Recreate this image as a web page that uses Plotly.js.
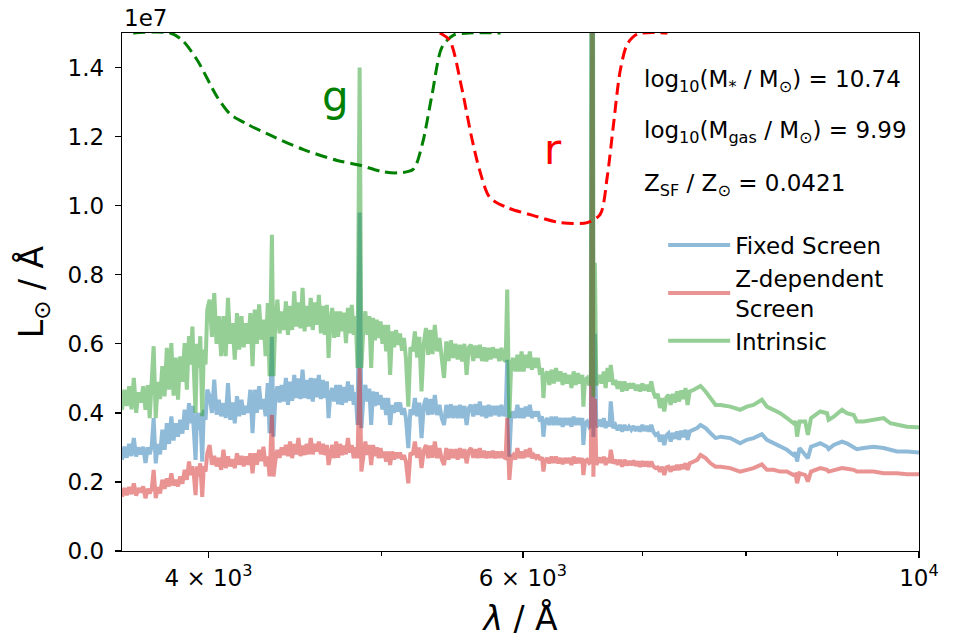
<!DOCTYPE html>
<html>
<head>
<meta charset="utf-8">
<script src="https://cdn.plot.ly/plotly-3.0.1.min.js"></script>
<style>
  html, body { margin: 0; padding: 0; background: #fff; }
  #chart { width: 958px; height: 638px; }
</style>
</head>
<body>
<div id="chart"></div>
<script>
// Wavelength grid (Å) shared by the three spectra
const wavelength = [
  3578,3589,3600,3611,3622,3633,3644,3655,3666,3677,3688,3699,
  3708,3718,3727,3737,3747,3758,3769,3780,3791,3802,3813,3824,3835,3846,3857,3868,3879,3890,
  3901,3910,3918,3926,3934,3942,3950,3958,3968,3976,3985,3994,
  4006,4018,4030,4042,4054,4066,4078,4090,4102,4114,4126,4138,4150,4162,4174,
  4186,4198,4210,4222,4234,4246,4258,4270,4282,4294,4306,4318,4328,
  4341,4350,4360,4372,4384,4396,4408,4420,4432,4444,4456,4468,
  4480,4492,4504,4516,4528,4540,4552,4564,4576,4588,4600,4612,
  4624,4636,4648,4660,4670,4680,4692,4704,4716,4728,
  4740,4752,4764,4776,4788,4800,4812,4824,4836,4848,
  4861,4872,4884,4897,4910,4922,4934,4946,4958,4970,4982,4994,5006,
  5018,5030,5043,5056,5069,5082,5095,5108,5121,5134,5147,5160,5176,
  5190,5205,5220,5235,5250,5265,5280,5295,5310,5325,5340,5356,5372,5388,
  5404,5420,5436,5452,5468,5484,5500,5516,5532,5548,5564,5580,5596,
  5612,5628,5644,5660,5676,5692,5708,5724,5740,5756,5772,5788,5804,5820,5836,5852,5868,
  5880,5896,5910,5926,5942,5958,5974,5990,6006,6022,6038,6054,6070,6086,6102,6118,6134,6150,6161,
  6172,6190,6208,6226,6244,6262,6280,6298,6316,6334,6352,6370,
  6388,6406,6424,6442,6460,6478,6487,6500,6518,6536,6550,
  6563,6571,6584,6596,6612,6628,6644,6660,6676,6692,6708,6720,
  6740,6760,6780,6800,6820,6840,6860,6880,6900,6920,6940,6960,6980,7000,7020,7040,7060,7080,
  7100,7120,7140,7160,7180,7200,7220,7240,7260,7280,7300,7320,7340,7360,7380,7400,7420,7440,
  7480,7512,7545,7594,7643,7693,7743,7839,7940,8009,8078,8166,8219,8289,8361,8434,8506,8530,8545,8572,
  8636,8665,8700,8805,8882,8900,8959,9055,9111,9192,9230,9310,9431,9554,9637,9720,9846,9974,10000
];

// Spectra in units of 10^6 L⊙/Å
const fixedScreen = [
  2.64,3.02,2.70,3.10,2.75,3.27,2.74,3.00,2.80,3.02,2.55,3.00,
  2.80,3.05,3.85,2.54,3.10,2.80,3.51,2.93,3.70,3.10,3.90,3.20,3.70,3.31,3.80,3.40,4.09,3.51,
  4.28,3.70,4.20,3.60,2.64,4.00,3.51,4.00,2.59,4.09,3.80,4.67,
  4.48,4.00,4.96,3.95,4.38,3.90,4.28,3.85,4.86,3.80,4.30,3.70,4.48,3.90,4.38,
  3.95,4.20,4.00,4.67,3.41,4.67,4.00,4.77,4.10,4.40,3.90,4.86,3.41,
  6.20,3.31,4.40,4.77,4.30,4.81,4.33,5.01,4.23,4.90,4.35,5.10,
  4.43,5.00,4.40,5.25,4.43,4.95,4.40,5.01,4.33,5.00,4.45,5.10,
  4.40,4.95,4.43,4.91,3.85,4.50,4.72,4.33,4.81,4.25,
  4.81,4.23,4.75,4.30,4.91,4.35,4.81,4.23,4.60,3.65,
  9.80,3.56,4.40,4.81,4.33,4.70,3.65,4.62,4.20,4.60,4.23,4.52,4.10,
  4.43,3.94,4.43,3.65,4.23,4.00,4.30,4.04,4.30,3.95,4.14,3.85,2.98,
  4.10,3.94,4.43,3.90,4.30,3.27,4.20,4.43,3.94,4.40,3.95,4.52,3.94,4.23,
  3.85,3.65,4.23,3.85,4.25,3.85,4.20,3.85,4.23,3.85,4.20,3.65,4.15,
  4.23,3.90,4.25,3.94,4.33,3.90,4.20,3.85,4.23,3.90,4.20,3.94,4.20,3.90,4.23,3.95,3.94,
  5.54,2.73,3.90,4.04,3.85,4.23,3.85,4.14,3.85,4.18,3.90,4.23,3.85,4.04,3.90,4.04,3.75,3.90,3.31,
  3.70,3.85,3.65,3.89,3.65,3.89,3.65,3.85,3.60,3.85,3.65,3.85,
  3.60,3.89,3.65,3.85,3.65,3.85,3.07,3.70,3.75,3.60,3.65,
  28.0,3.30,6.29,3.60,3.65,3.80,3.60,3.85,3.56,3.75,3.60,4.33,
  3.56,3.65,3.50,3.65,3.46,3.65,3.50,3.60,3.51,3.62,3.48,3.60,3.46,3.65,3.48,3.62,3.46,3.65,
  3.45,3.36,3.40,3.17,3.36,3.07,3.35,3.41,3.17,3.42,3.25,3.46,3.22,3.48,3.30,3.51,3.22,3.46,
  3.51,3.56,3.65,3.56,3.41,3.27,3.31,3.27,3.12,3.22,3.27,3.38,3.22,3.12,3.02,2.93,2.78,2.85,2.59,2.98,
  2.78,2.69,3.02,3.12,3.02,2.95,3.07,3.17,3.12,3.02,2.95,2.98,3.02,2.98,2.93,2.88,2.88,2.85,2.85
];

const zDependentScreen = [
  1.57,1.82,1.62,1.85,1.65,1.96,1.60,1.82,1.70,1.87,1.53,1.80,
  1.67,1.80,2.35,1.53,1.85,1.67,2.06,1.80,2.10,1.87,2.25,1.90,2.06,1.87,2.16,1.95,2.35,2.06,
  2.59,2.20,2.45,2.16,1.62,2.45,2.16,2.54,1.57,2.45,2.30,2.83,
  3.07,2.50,2.75,2.45,2.70,2.35,2.93,2.40,2.74,2.45,2.65,2.40,2.83,2.50,2.75,
  2.45,2.74,2.50,2.83,2.25,2.83,2.50,2.93,2.60,3.02,2.45,2.74,2.16,
  3.94,2.16,2.60,2.93,2.70,3.00,2.78,3.07,2.75,3.17,2.69,3.10,
  2.80,3.27,2.75,3.05,2.78,3.10,2.80,3.27,2.80,3.10,2.88,3.17,
  2.80,3.10,2.78,3.07,2.49,2.85,3.07,2.69,3.17,2.70,
  3.10,2.78,3.05,2.80,3.27,2.85,3.07,2.69,3.00,2.69,
  5.30,2.30,2.85,3.17,2.78,3.07,2.49,3.07,2.75,3.00,2.69,2.98,2.70,
  2.88,2.59,2.88,2.49,2.88,2.65,2.85,2.69,2.85,2.65,2.78,2.59,1.96,
  2.85,2.78,3.17,2.70,3.00,2.40,2.90,3.07,2.69,3.05,2.70,3.17,2.69,2.98,
  2.65,2.49,2.98,2.65,2.95,2.69,2.95,2.65,2.98,2.69,2.95,2.54,2.90,
  2.98,2.70,2.95,2.69,2.98,2.70,2.90,2.69,2.88,2.70,2.90,2.69,2.88,2.70,2.88,2.72,2.69,
  3.86,2.06,2.70,2.78,2.65,2.98,2.69,2.88,2.69,2.93,2.72,2.98,2.69,2.78,2.70,2.78,2.64,2.72,2.30,
  2.60,2.69,2.54,2.73,2.55,2.73,2.54,2.69,2.52,2.69,2.55,2.69,
  2.49,2.73,2.54,2.69,2.55,2.69,2.20,2.60,2.64,2.55,2.59,
  18.0,2.15,4.40,2.50,2.59,2.70,2.55,2.73,2.49,2.69,2.55,2.93,
  2.54,2.64,2.50,2.64,2.44,2.64,2.48,2.60,2.49,2.62,2.47,2.59,2.44,2.60,2.46,2.59,2.44,2.59,
  2.45,2.40,2.42,2.30,2.44,2.20,2.42,2.44,2.30,2.45,2.35,2.49,2.35,2.50,2.38,2.54,2.35,2.54,
  2.59,2.64,2.78,2.69,2.54,2.44,2.44,2.40,2.30,2.35,2.40,2.51,2.35,2.35,2.30,2.30,2.20,2.22,1.96,2.25,
  2.20,2.01,2.30,2.40,2.35,2.30,2.35,2.40,2.38,2.35,2.30,2.30,2.30,2.25,2.25,2.25,2.22,2.22,2.22
];

const intrinsic = [
  4.09,4.67,4.20,4.77,4.10,5.01,4.00,4.60,4.30,4.77,4.09,4.80,
  3.85,4.86,5.93,3.85,4.90,4.40,5.35,4.48,5.88,4.67,6.02,4.50,5.60,4.38,5.64,4.90,6.02,4.67,
  6.22,5.40,6.50,5.15,4.00,6.00,5.30,6.22,3.90,5.83,5.40,6.99,
  7.28,6.20,7.47,6.00,6.80,5.64,6.80,5.64,7.33,6.00,6.60,5.54,6.89,5.83,6.80,
  5.90,6.60,6.00,6.89,5.35,6.99,6.00,7.14,6.12,6.70,5.64,7.18,5.06,
  9.16,5.06,6.60,7.28,6.30,6.94,6.40,7.23,6.26,7.10,6.40,7.52,
  6.50,7.20,6.45,7.62,6.36,7.10,6.50,7.33,6.40,7.20,6.55,7.42,
  6.30,7.10,6.26,7.13,5.59,6.60,7.04,6.17,6.94,6.20,
  6.94,6.36,6.90,6.02,7.04,6.30,7.13,6.26,6.80,5.30,
  14.0,5.30,6.40,6.94,6.26,6.80,5.30,6.75,6.10,6.70,6.17,6.65,6.00,
  6.55,5.78,6.55,5.10,6.36,5.90,6.40,5.97,6.30,5.80,6.17,5.59,4.18,
  5.90,5.78,6.36,5.60,6.20,4.62,6.00,6.46,5.68,6.40,5.70,6.55,5.78,6.17,
  5.60,5.01,6.07,5.50,6.10,5.59,6.00,5.55,5.97,5.49,6.00,5.10,5.90,
  5.97,5.50,5.95,5.59,5.97,5.50,5.90,5.49,5.88,5.55,5.90,5.59,5.85,5.50,5.88,5.55,5.49,
  7.57,3.85,5.40,5.59,5.20,5.68,5.20,5.78,5.20,5.68,5.30,5.78,5.25,5.59,5.30,5.59,5.10,5.30,4.43,
  5.00,5.20,4.81,5.25,4.85,5.30,4.91,5.20,4.81,5.15,4.85,5.10,
  4.72,5.20,4.81,5.15,4.85,5.10,4.18,4.95,5.01,4.80,4.91,
  40.0,4.47,8.35,4.80,4.91,5.10,4.85,5.20,4.72,5.30,4.90,5.39,
  4.81,4.95,4.70,4.91,4.62,4.91,4.65,4.85,4.72,4.85,4.65,4.81,4.62,4.85,4.65,4.81,4.62,4.91,
  4.60,4.43,4.55,4.14,4.43,4.04,4.45,4.52,4.23,4.55,4.30,4.62,4.33,4.65,4.40,4.72,4.23,4.62,
  4.67,4.72,4.78,4.62,4.43,4.23,4.23,4.18,4.09,4.18,4.23,4.38,4.18,4.09,3.99,3.85,3.70,3.75,3.31,3.75,
  3.75,3.36,3.85,4.04,3.99,3.80,3.89,4.09,3.99,3.94,3.75,3.75,3.80,3.85,3.70,3.65,3.60,3.58,3.58
];

// Filter response curves, drawn hanging from the top of the panel (same units)
const gWave  = [3630,3807,3867,3943,4046,4114,4205,4332,4519,4722,4864,5000,5102,5208,5270,5337,5406,5487,5600,5830];
const gLevel = [15.0,15.0,14.79,14.21,13.14,12.65,12.36,12.04,11.63,11.31,11.17,10.99,10.95,11.05,11.78,13.22,14.59,14.94,15.0,15.0];
const rWave  = [5390,5459,5544,5616,5675,5749,5876,6077,6295,6520,6629,6689,6741,6803,6865,6955,7230];
const rLevel = [15.0,14.79,13.43,11.98,11.02,10.24,9.95,9.72,9.51,9.51,9.75,10.82,12.27,13.92,14.68,14.97,15.0];

const unit = 1e6;

// Axis ticks
const xTickVals  = [4000, 6000, 10000];
const xTickText  = ['4 × 10<sup>3</sup>', '6 × 10<sup>3</sup>', '10<sup>4</sup>'];
const xMinorVals = [5000, 7000, 8000, 9000];
const yTickVals  = [0, 2e6, 4e6, 6e6, 8e6, 10e6, 12e6, 14e6];
const yTickText  = ['0.0', '0.2', '0.4', '0.6', '0.8', '1.0', '1.2', '1.4'];

// Galaxy properties
const statLines = [
  'log<sub>10</sub>(M<sub>*</sub> / M<sub>⊙</sub>) = 10.74',
  'log<sub>10</sub>(M<sub>gas</sub> / M<sub>⊙</sub>) = 9.99',
  'Z<sub>SF</sub> / Z<sub>⊙</sub> = 0.0421'
];

const toLum = arr => arr.map(v => v * unit);

function spectrum(name, values, color) {
  return {
    type: 'scatter', mode: 'lines', name: name,
    x: wavelength, y: toLum(values),
    line: { color: color, width: 4 },
    opacity: 0.5,
    hoverinfo: 'skip'
  };
}

function filterCurve(wave, level, color) {
  return {
    type: 'scatter', mode: 'lines', showlegend: false,
    x: wave, y: toLum(level),
    line: { color: color, width: 3, dash: '12px,6px', shape: 'spline', smoothing: 0.8 },
    hoverinfo: 'skip'
  };
}

const traces = [
  spectrum('Fixed Screen', fixedScreen, '#1f77b4'),
  spectrum('Z-dependent<br>Screen', zDependentScreen, '#d62728'),
  spectrum('Intrinsic', intrinsic, '#2ca02c'),
  filterCurve(gWave, gLevel, '#008000'),
  filterCurve(rWave, rLevel, '#ff0000')
];

const FONT = 'DejaVu Sans, Verdana, sans-serif';

const axisCommon = {
  showline: true, linecolor: '#000', linewidth: 1.3, mirror: true,
  ticks: 'outside', ticklen: 6, tickwidth: 1.3, tickcolor: '#000',
  showgrid: false, zeroline: false,
  tickfont: { family: FONT, size: 23, color: '#000' }
};

const statY = [0.908, 0.808, 0.707];

const annotations = [
  { xref: 'paper', yref: 'paper', x: 0, y: 1, xanchor: 'left', yanchor: 'bottom',
    text: '1e7', showarrow: false, font: { family: FONT, size: 23, color: '#000' } },
  { xref: 'x', yref: 'y', x: Math.log10(4710), y: 1.317e7, xanchor: 'center', yanchor: 'middle',
    text: 'g', showarrow: false, font: { family: FONT, size: 42, color: '#008000' } },
  { xref: 'x', yref: 'y', x: Math.log10(6240), y: 1.163e7, xanchor: 'center', yanchor: 'middle',
    text: 'r', showarrow: false, font: { family: FONT, size: 42, color: '#ff0000' } }
].concat(statLines.map((t, i) => ({
  xref: 'paper', yref: 'paper', x: 0.6527, y: statY[i], xanchor: 'left', yanchor: 'middle',
  text: t, showarrow: false, font: { family: FONT, size: 23, color: '#000' }
})));

const layout = {
  width: 958, height: 638,
  margin: { l: 122, r: 39, t: 33, b: 87 },
  paper_bgcolor: '#fff', plot_bgcolor: '#fff',
  font: { family: FONT, size: 23, color: '#000' },
  xaxis: Object.assign({}, axisCommon, {
    type: 'log',
    range: [Math.log10(3578), 4],
    tickmode: 'array', tickvals: xTickVals, ticktext: xTickText,
    minor: { tickmode: 'array', tickvals: xMinorVals, ticks: 'outside', ticklen: 4, tickwidth: 1.1, tickcolor: '#000', showgrid: false },
    title: { text: '<i>λ</i> / Å', font: { family: FONT, size: 33, color: '#000' }, standoff: 18 }
  }),
  yaxis: Object.assign({}, axisCommon, {
    range: [0, 1.5e7],
    tickmode: 'array', tickvals: yTickVals, ticktext: yTickText,
    ticklabelstandoff: 6,
    title: { text: 'L<sub>⊙</sub> / Å', font: { family: FONT, size: 33, color: '#000' }, standoff: 14 }
  }),
  legend: {
    x: 0.679, y: 0.632, xanchor: 'left', yanchor: 'top',
    bgcolor: 'rgba(0,0,0,0)', borderwidth: 0,
    font: { family: FONT, size: 23, color: '#000' },
    itemwidth: 62,
    tracegroupgap: 0
  },
  showlegend: true,
  annotations: annotations
};

Plotly.newPlot('chart', traces, layout, { displayModeBar: false, staticPlot: true });
</script>
</body>
</html>
